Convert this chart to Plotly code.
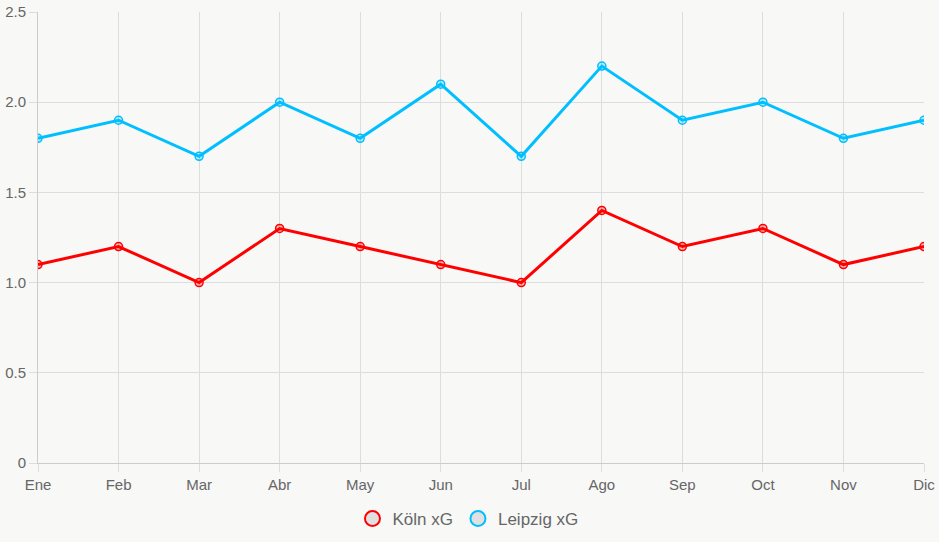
import plotly.graph_objects as go

months = ["Ene", "Feb", "Mar", "Abr", "May", "Jun", "Jul", "Ago", "Sep", "Oct", "Nov", "Dic"]
koln = [1.1, 1.2, 1.0, 1.3, 1.2, 1.1, 1.0, 1.4, 1.2, 1.3, 1.1, 1.2]
leipzig = [1.8, 1.9, 1.7, 2.0, 1.8, 2.1, 1.7, 2.2, 1.9, 2.0, 1.8, 1.9]
ytick_vals = [0, 0.5, 1.0, 1.5, 2.0, 2.5]
ytick_text = ["0", "0.5", "1.0", "1.5", "2.0", "2.5"]

series = [
    ("Köln xG", koln, "#ff0000", "rgba(255,0,0,0.25)"),
    ("Leipzig xG", leipzig, "#00bfff", "rgba(0,191,255,0.25)"),
]

fig = go.Figure()
for name, vals, col, fill in series:
    fig.add_trace(go.Scatter(
        x=months, y=vals, mode="lines+markers", name=name, showlegend=False,
        line=dict(color=col, width=3),
        marker=dict(size=8, color=fill, line=dict(color=col, width=1.5)),
    ))
for name, vals, col, fill in series:
    fig.add_trace(go.Scatter(
        x=[None], y=[None], mode="markers", name=name, showlegend=True,
        marker=dict(size=15, color="#e0e0e0", line=dict(color=col, width=2)),
    ))

fig.update_layout(
    width=939, height=542,
    margin=dict(l=38, r=15, t=12, b=79, autoexpand=False),
    paper_bgcolor="#f8f8f7", plot_bgcolor="#f8f8f7",
    font=dict(family="Liberation Sans, Arial, sans-serif", size=15, color="#666666"),
    legend=dict(orientation="h", x=0.4853, xanchor="center", y=-0.124, yanchor="middle",
                font=dict(size=17, color="#666666"), itemwidth=30,
                bgcolor="rgba(0,0,0,0)"),
    showlegend=True,
)
fig.update_xaxes(
    type="category", range=[0, 11], showgrid=True, gridcolor="#dddddd", gridwidth=1,
    showline=True, linecolor="#cccccc", linewidth=1, automargin=False,
    ticks="outside", ticklen=8, tickcolor="#dddddd", zeroline=False,
)
fig.update_yaxes(
    range=[0, 2.5], tickvals=ytick_vals, ticktext=ytick_text,
    showgrid=True, gridcolor="#dddddd", gridwidth=1,
    showline=True, linecolor="#cccccc", linewidth=1, automargin=False,
    ticks="outside", ticklen=8, tickcolor="#dddddd", zeroline=False,
)

fig.write_html("out.html")
